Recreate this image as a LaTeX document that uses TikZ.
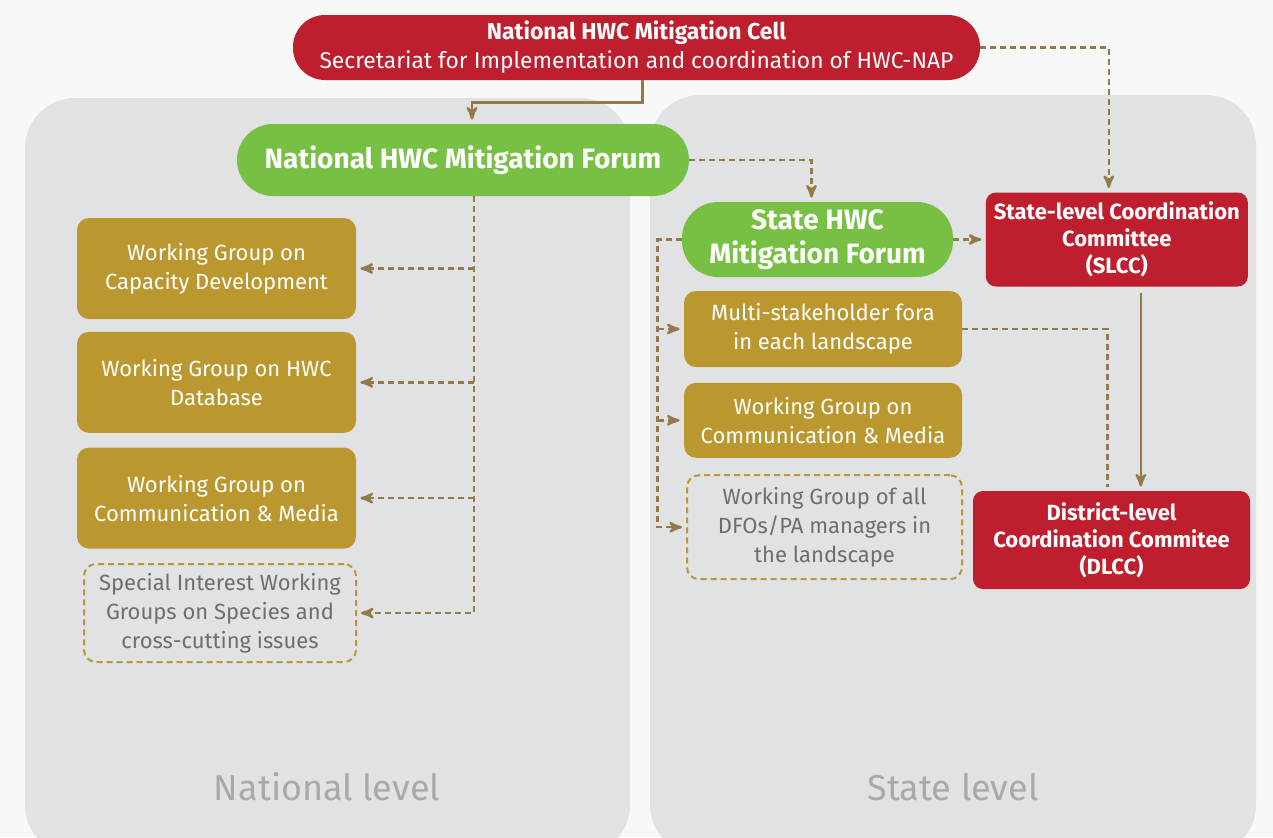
\documentclass[tikz,border=0pt]{standalone}
\usepackage{fontspec}
\setmainfont{Fira Sans}
\usepackage{tikz}
\usetikzlibrary{arrows,positioning}
\usepackage{xcolor}
\definecolor{hwcred}{HTML}{BE1E2D}
\definecolor{hwcgreen}{HTML}{78C044}
\definecolor{hwcgold}{HTML}{BB982F}
\definecolor{hwcline}{HTML}{957A49}
\definecolor{hwcpanel}{HTML}{E1E2E4}
\definecolor{hwcpage}{HTML}{F8F8F8}
\definecolor{hwcgrey}{HTML}{6D6E71}
\definecolor{hwclevel}{HTML}{A8A9AB}

\begin{document}
\begin{tikzpicture}[x=0.5pt,y=-0.5pt,
hub/.style={rectangle,rounded corners=16pt,fill=hwcred,text=white,inner sep=0pt,minimum width=343.5pt,minimum height=32.5pt,align=center,font=\fontsize{11.4}{14.5}\selectfont},
forum/.style={rectangle,rounded corners=18pt,fill=hwcgreen,text=white,inner sep=0pt,minimum height=36pt,align=center,font=\bfseries\fontsize{14}{17}\selectfont},
wgroup/.style={rectangle,rounded corners=6pt,fill=hwcgold,text=white,inner sep=0pt,minimum width=139.5pt,minimum height=50.5pt,align=center,font=\fontsize{11}{14.5}\selectfont},
sigroup/.style={wgroup,fill=none,draw=hwcgold,line width=1pt,dash pattern=on 3pt off 2pt,text=hwcgrey,minimum width=136pt,minimum height=49pt},
committee/.style={rectangle,rounded corners=5pt,fill=hwcred,text=white,inner sep=0pt,align=center,font=\bfseries\fontsize{11}{13.5}\selectfont},
paths/.style={->,line width=1.2pt,draw=hwcline,>=stealth',shorten >=2pt},
dpaths/.style={paths,dash pattern=on 3pt off 2pt},
dline/.style={line width=1.2pt,draw=hwcline,dash pattern=on 3pt off 2pt},
level/.style={text=hwclevel,font=\fontsize{18}{22}\selectfont},
]
% page and the two level panels
\fill[hwcpage] (0,0) rectangle (1273,837);
\useasboundingbox (0,0) rectangle (1273,837);
\begin{scope}
\clip (0,0) rectangle (1273,837);
\fill[hwcpanel,rounded corners=25pt] (25,98) rectangle (630,855);
\fill[hwcpanel,rounded corners=25pt] (650,95) rectangle (1256,855);
\end{scope}

\node [level] (natlevel) at (327,787) {National level};
\node [level] (statelevel) at (953,787) {State level};

% national level
\node [hub] (cell) at (636.5,47.5) {{\bfseries\fontsize{11.5}{14.5}\selectfont National HWC Mitigation Cell}\\Secretariat for Implementation and coordination of HWC-NAP};
\node [forum,minimum width=226pt] (natforum) at (463,160) {National HWC Mitigation Forum};

\node [wgroup] (wgcap) at (216.5,268.5) {Working Group on\\Capacity Development};
\node [wgroup] (wgdb) [below=6pt of wgcap] {Working Group on HWC\\Database};
\node [wgroup] (wgcomm) [below=7pt of wgdb] {Working Group on\\Communication \& Media};
\node [sigroup] (special) [below=7pt of wgcomm, xshift=1.75pt] {Special Interest Working\\Groups on Species and\\cross-cutting issues};

% state level
\node [forum,minimum width=135.5pt,minimum height=37.5pt] (stateforum) at (817.5,239.5) {State HWC\\Mitigation Forum};
\node [committee,minimum width=131pt,minimum height=47pt] (slcc) [right=16pt of stateforum] {State-level Coordination\\Committee\\(SLCC)};

\node [wgroup,minimum width=139pt,minimum height=38pt] (multi) at (823,329) {Multi-stakeholder fora\\in each landscape};
\node [wgroup,minimum width=139pt,minimum height=37.5pt] (wgmedia) [below=7.5pt of multi] {Working Group on\\Communication \& Media};
\node [sigroup,minimum width=137.5pt,minimum height=52pt] (dfos) [below=8pt of wgmedia, xshift=0.75pt] {Working Group of all\\DFOs/PA managers in\\the landscape};

\node [committee,minimum width=138.5pt,minimum height=49pt] (dlcc) at (1111.5,540) {District-level\\Coordination Commitee\\(DLCC)};

% links
\draw [paths] ([xshift=3pt]cell.south) -- ++(0,22) -| ([xshift=4.5pt]natforum.north);
\draw [dpaths] (cell.east) -| ([xshift=-4pt]slcc.north);
\draw [dpaths] (natforum.east) -| ([xshift=-3pt]stateforum.north);

\coordinate (ntrunk) at ([xshift=5.5pt]natforum.south);
\draw [dpaths] (ntrunk) |- (special.east);
\foreach \wg in {wgcap, wgdb, wgcomm}
{
\draw [dpaths] (ntrunk |- \wg.east) to (\wg.east);
}

\coordinate (strunk) at ([xshift=-12pt]stateforum.west);
\draw [dpaths] (stateforum.west) -- (strunk) |- (dfos.west);
\foreach \wg in {multi, wgmedia}
{
\draw [dpaths] (strunk |- \wg.west) to (\wg.west);
}

\draw [dpaths] (stateforum.east) to (slcc.west);
\coordinate (slink) at ([xshift=12pt]slcc.south);
\draw [paths,shorten <=3pt] (slink) to (slink |- dlcc.north);
\draw [dline,shorten >=2pt] (multi.east) -| ([xshift=-2pt]dlcc.north);

\end{tikzpicture}
\end{document}
